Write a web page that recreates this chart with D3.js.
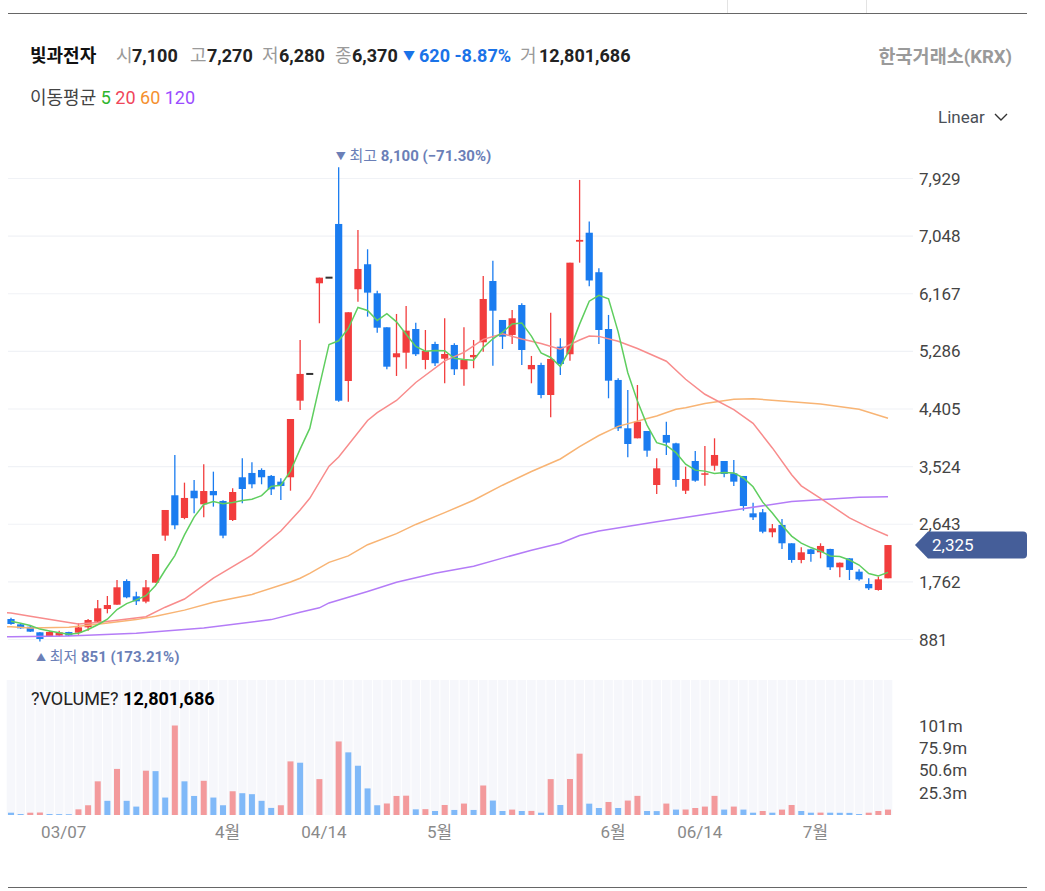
<!DOCTYPE html>
<html><head><meta charset="utf-8">
<script src="https://cdn.jsdelivr.net/npm/d3@7"></script>
<style>
body{margin:0;background:#fff;}
text{font-family:Roboto,"Noto Sans CJK KR",sans-serif;}
</style></head><body>
<svg id="c" width="1045" height="891"></svg>
<script>
// ---------- DATA ----------
const opens = [1194,1113,1077,991,935,940,995,985,1067,1153,
1347,1413,1775,1541,1460,1750,2469,3086,2739,3156,
2948,3151,2999,2708,3361,3427,3473,3382,3294,3361,
4532,4941,6327,6413,7234,4833,6236,6618,6174,5654,
5196,5266,5628,5155,5399,5174,5384,5012,5196,5425,
6362,5766,5537,5995,5012,5078,4619,5358,5242,6963,
7100,6496,5628,4849,4110,3957,4069,3243,4008,3880,
3156,3610,3401,3538,3610,3422,3381,2810,2826,2520,
2632,2352,2097,2260,2214,2265,1985,2122,1918,1730,
1638,1817];
const highs = [1215,1120,1092,995,1010,1015,1000,1129,1194,1485,
1546,1791,1801,1612,1791,2188,2861,3702,3279,3320,
3559,3447,3010,3192,3651,3590,3498,3397,3346,4252,
5460,4941,6413,6413,8100,5884,7142,6847,6214,5654,
5858,5980,5725,5613,5434,5792,5410,5654,5460,6439,
6673,5766,5919,6022,5216,5113,5878,5486,6642,7907,
7270,6557,5843,4875,4696,4772,4069,3651,4211,3890,
3523,3763,3840,3957,3610,3626,3381,2973,2876,2647,
2723,2352,2291,2270,2352,2270,2060,2125,1955,1817,
1842,2325];
const lows = [1105,1045,995,851,930,930,935,954,1016,1138,
1281,1413,1511,1408,1434,1750,2392,2566,2720,2810,
2749,2912,2428,2693,2963,3192,3254,3090,3014,3156,
4390,4941,5716,6413,4517,4517,6046,5817,5572,5012,
4910,5022,5216,5012,5063,4798,4925,4762,5028,5281,
5067,5323,5399,5078,4798,4569,4278,4925,5144,6642,
6280,5399,4569,4069,3667,3957,3676,3106,3702,3217,
3106,3294,3233,3462,3361,3228,2850,2708,2505,2444,
2265,2055,2045,2071,2122,1944,1832,1791,1780,1638,
1628,1817];
const closes = [1118,1052,1001,889,996,990,940,1067,1179,1358,
1408,1679,1526,1465,1679,2188,2861,2627,3045,3040,
3151,3086,2469,3136,3182,3254,3361,3177,3228,4252,
4941,4941,6413,6413,4532,5884,6546,6184,5648,5052,
5257,5603,5242,5292,5104,5246,5012,5155,5231,6087,
5908,5511,5792,5307,5078,4619,5170,5093,6642,6990,
6370,5613,4838,4110,3870,4211,3768,3498,3890,3320,
3335,3309,3422,3702,3411,3294,2922,2749,2529,2581,
2352,2097,2214,2188,2311,1985,2055,1944,1801,1664,
1801,2325];
// volume in millions of shares
const volumes = [2.6,1.1,2.6,2.8,1.1,1.0,0.9,6.4,11,38,
16,52,16,9.5,50,49.5,19.7,101,38,21.5,
38.6,19.7,11,26.8,24.6,23.5,16,8,11,60.5,
59,0,40.5,0,83,70.7,55.6,30,11,13,
21.5,21.8,6.4,6.6,4.5,11.3,5.7,12.9,5.7,33.3,
16.3,4.5,6.1,4.5,4.6,2.6,40.5,11.3,40.6,69.2,
12.8,7.9,14.7,7.9,16.3,21.6,4.5,4.4,12.9,6.1,
6.2,7.9,9.5,21.6,6.1,9.5,6.1,2.6,4.5,2.6,
6.1,11.3,4.5,2.6,2.7,2.6,2.5,2.4,1.1,2.6,
4.5,6.1];
// closes before the visible window (estimated from the MA5 line start)
const earlierCloses = [1200,1180,1160,1140];
// moving averages as [candle index, value]
const ma20Pts = [[-1,1300],[0,1285],[2,1235],[6,1140],[7,1118],[9,1140],[11,1175],[14,1230],[16,1375],[18,1500],[21,1820],[25,2170],[28,2540],[30,2861],[31,3040],[33,3530],[34,3670],[37,4230],[38,4350],[40,4535],[42,4810],[45,5140],[47,5270],[48,5370],[49,5470],[51,5555],[53,5475],[55,5405],[57,5318],[59,5460],[60,5520],[61,5515],[63,5440],[65,5330],[68,5135],[70,4860],[72,4630],[75,4395],[77,4186],[79,3810],[81,3400],[82,3230],[84,3040],[87,2740],[89,2595],[91,2468]];
const ma60Pts = [[-1,1080],[0,1075],[2,1055],[6,1068],[9,1115],[13,1185],[15,1235],[18,1330],[21,1450],[25,1570],[29,1760],[30,1817],[31,1893],[33,2060],[35,2160],[37,2330],[40,2500],[42,2640],[45,2820],[48,3010],[51,3240],[54,3450],[57,3641],[59,3830],[61,4000],[63,4140],[66,4260],[67,4298],[69,4400],[70,4425],[72,4490],[75,4555],[77,4562],[81,4515],[84,4482],[88,4400],[91,4263]];
const ma120Pts = [[-1,922],[0,924],[6,935],[13,978],[20,1055],[27,1185],[30,1297],[32,1365],[33,1440],[37,1615],[40,1755],[44,1895],[48,2000],[51,2125],[54,2245],[57,2352],[59,2470],[61,2540],[67,2682],[74,2838],[81,2990],[88,3057],[91,3065]];
const priceTicks = [881,1762,2643,3524,4405,5286,6167,7048,7929];
const volTicks = [25.3,50.6,75.9,101];
const volTickLabels = ["25.3m","50.6m","75.9m","101m"];
const dateTickIdx = [5,22,32,44,62,71,83];
const dateTickLabels = ["03/07","4월","04/14","5월","6월","06/14","7월"];

// ---------- CHART ----------
const svg = d3.select("#c");
const n = closes.length;
const x = d3.scaleLinear().domain([0, n-1]).range([11, 888]);
const y = d3.scaleLinear().domain([881, 7929]).range([639.5, 178.5]);
const yv = d3.scaleLinear().domain([0, 101]).range([815, 725.5]);
const RED = "#f23d3d", BLUE = "#1a7cf0";
const step = x(1) - x(0);

// top & bottom rules
svg.append("line").attr("x1",8).attr("x2",1027).attr("y1",13.5).attr("y2",13.5).attr("stroke","#666").attr("stroke-width",1);
[727.5, 866.5].forEach(px => svg.append("line").attr("x1",px).attr("x2",px).attr("y1",0).attr("y2",13).attr("stroke","#e3e3e3"));
svg.append("line").attr("x1",8).attr("x2",1027).attr("y1",887.5).attr("y2",887.5).attr("stroke","#666").attr("stroke-width",1);

// header
const hdr = svg.append("g").attr("font-size",18);
const hy = 62;
hdr.append("text").attr("x",30).attr("y",hy).attr("font-weight","bold").attr("fill","#111").text("빛과전자");
const items = [["시",116,"7,100",132],["고",190,"7,270",207],["저",262,"6,280",279],["종",335,"6,370",352]];
items.forEach(([l,lx,v,vx]) => {
  hdr.append("text").attr("x",lx).attr("y",hy).attr("fill","#9a9a9a").text(l);
  hdr.append("text").attr("x",vx).attr("y",hy).attr("font-weight","bold").attr("fill","#222").text(v);
});
hdr.append("text").attr("x",403).attr("y",hy-2).attr("fill","#1a73e8").attr("font-size",12).text("▼");
hdr.append("text").attr("x",419).attr("y",hy).attr("fill","#1a73e8").attr("font-weight","bold").text("620 -8.87%");
hdr.append("text").attr("x",520).attr("y",hy).attr("fill","#9a9a9a").text("거");
hdr.append("text").attr("x",539).attr("y",hy).attr("font-weight","bold").attr("fill","#222").text("12,801,686");
hdr.append("text").attr("x",1012).attr("y",hy+1).attr("text-anchor","end").attr("font-weight","bold").attr("fill","#9a9a9a").attr("font-size",18.5).text("한국거래소(KRX)");

// MA legend
const leg = svg.append("text").attr("x",30).attr("y",104).attr("font-size",18);
leg.append("tspan").attr("fill","#444").text("이동평균 ");
leg.append("tspan").attr("fill","#2db52d").text("5 ");
leg.append("tspan").attr("fill","#f0465a").text("20 ");
leg.append("tspan").attr("fill","#f5902f").text("60 ");
leg.append("tspan").attr("fill","#9b4dff").text("120");

// Linear dropdown
svg.append("text").attr("x",938).attr("y",123).attr("font-size",17).attr("fill","#4a4f57").text("Linear");
svg.append("path").attr("d","M995,114 L1001,120 L1007,114").attr("fill","none").attr("stroke","#333").attr("stroke-width",1.4);

// grid + price ticks
const grid = svg.append("g");
priceTicks.forEach(t => {
  grid.append("line").attr("x1",8).attr("x2",913).attr("y1",y(t)).attr("y2",y(t)).attr("stroke","#f0f2f6").attr("stroke-width",1.2);
  grid.append("text").attr("x",919).attr("y",y(t)).attr("dy","0.36em").attr("font-size",17).attr("fill","#444").text(d3.format(",")(t));
});

// clip
svg.append("clipPath").attr("id","plot").append("rect").attr("x",7).attr("y",140).attr("width",900).attr("height",520);

// candles
const cg = svg.append("g").attr("clip-path","url(#plot)");
d3.range(n).forEach(i => {
  const o=opens[i], c=closes[i], h=highs[i], l=lows[i];
  const cx = x(i);
  if (h === l) {
    cg.append("rect").attr("x",cx-3.5).attr("y",y(c)-1).attr("width",7).attr("height",2).attr("fill","#333");
    return;
  }
  const col = c >= o ? RED : BLUE;
  cg.append("line").attr("x1",cx).attr("x2",cx).attr("y1",y(h)).attr("y2",y(l)).attr("stroke",col).attr("stroke-width",1.3);
  const top = y(Math.max(o,c)), bot = y(Math.min(o,c));
  cg.append("rect").attr("x",cx-3.6).attr("y",top).attr("width",7.2).attr("height",Math.max(1.5,bot-top)).attr("fill",col);
});

// moving averages
const allCloses = earlierCloses.concat(closes);
const ma5 = d3.range(n).map(i => [i, d3.mean(allCloses.slice(i, i+5))]);
const line = d3.line().x(d => x(d[0])).y(d => y(d[1]));
const lg = svg.append("g").attr("clip-path","url(#plot)").attr("fill","none").attr("stroke-width",1.5);
lg.append("path").attr("d",line(ma120Pts)).attr("stroke","#b47cf7");
lg.append("path").attr("d",line(ma60Pts)).attr("stroke","#f8b474");
lg.append("path").attr("d",line(ma20Pts)).attr("stroke","#f88c8c");
lg.append("path").attr("d",line(ma5)).attr("stroke","#5fce5f");

// high / low annotations
const iHi = d3.maxIndex(highs), iLo = d3.minIndex(lows);
const hiT = svg.append("text").attr("x",x(iHi)-3).attr("y",161).attr("font-size",15).attr("fill","#6b7fb7");
hiT.append("tspan").attr("font-size",10).attr("dy",-1).text("▼");
hiT.append("tspan").attr("dy",1).text(" 최고 ");
hiT.append("tspan").attr("font-weight","bold").text(d3.format(",")(highs[iHi]) + " (" + d3.format(".2f")((closes[n-1]-highs[iHi])/highs[iHi]*100) + "%)");
const loT = svg.append("text").attr("x",x(iLo)-4).attr("y",662).attr("font-size",15).attr("fill","#6b7fb7");
loT.append("tspan").attr("font-size",10).attr("dy",-1).text("▲");
loT.append("tspan").attr("dy",1).text(" 최저 ");
loT.append("tspan").attr("font-weight","bold").text(d3.format(",")(lows[iLo]) + " (" + d3.format(".2f")((closes[n-1]-lows[iLo])/lows[iLo]*100) + "%)");

// last price tag
const ly = y(closes[n-1]);
svg.append("path").attr("d",`M915,${ly} L928,${ly-13.5} L1023,${ly-13.5} Q1027,${ly-13.5} 1027,${ly-9.5} L1027,${ly+9.5} Q1027,${ly+13.5} 1023,${ly+13.5} L928,${ly+13.5} Z`).attr("fill","#455e99");
svg.append("text").attr("x",932).attr("y",ly).attr("dy","0.36em").attr("font-size",17).attr("fill","#fff").text(d3.format(",")(closes[n-1]));

// volume panel
const vg = svg.append("g");
d3.range(n).forEach(i => {
  vg.append("rect").attr("x",x(i)-step/2+0.5).attr("y",680).attr("width",step-1).attr("height",135).attr("fill","#f6f7fb");
});
d3.range(n).forEach(i => {
  const up = i > 0 && volumes[i] >= volumes[i-1];
  const v = volumes[i];
  if (v <= 0) return;
  vg.append("rect").attr("x",x(i)-3).attr("y",yv(v)).attr("width",6).attr("height",yv(0)-yv(v)).attr("fill",up ? "#f39a9c" : "#80b9f8");
});
volTicks.forEach((t,k) => {
  svg.append("text").attr("x",919).attr("y",yv(t)).attr("dy","0.36em").attr("font-size",17).attr("fill","#444").text(volTickLabels[k]);
});
const vt = svg.append("text").attr("x",31).attr("y",705).attr("font-size",18).attr("fill","#222");
vt.append("tspan").text("?VOLUME? ");
vt.append("tspan").attr("font-weight","bold").attr("fill","#000").text("12,801,686");

// date axis
dateTickIdx.forEach((i,k) => {
  svg.append("text").attr("x",x(i)+step*0.47).attr("y",832).attr("dy","0.36em").attr("text-anchor","middle").attr("font-size",17).attr("fill","#8a8a8a").text(dateTickLabels[k]);
});
</script></body></html>
